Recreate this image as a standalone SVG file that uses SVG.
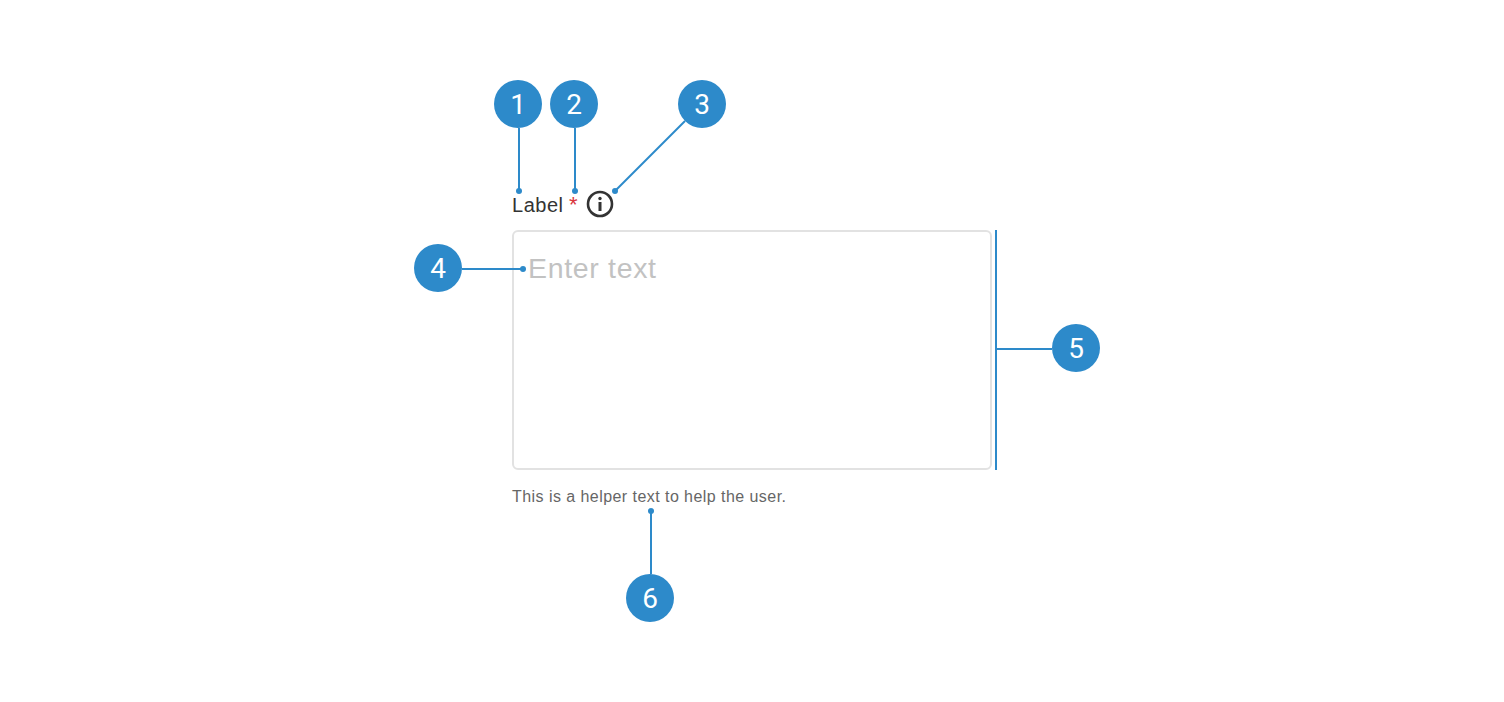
<svg xmlns="http://www.w3.org/2000/svg" width="1504" height="702" viewBox="0 0 1504 702">
<style>
.badge{fill:#2d8aca}
.num{fill:#fff;font-family:Roboto,"Liberation Sans",sans-serif;font-size:28px;font-weight:400;text-anchor:middle}
.conn{stroke:#2d8aca;stroke-width:2;fill:none}
.dot{fill:#2d8aca}
.t{font-family:"Liberation Sans",Arial,sans-serif}
</style>
<rect width="1504" height="702" fill="#fff"/>
<g id="field-label">
<text class="t" x="512" y="212" font-size="20" fill="#333" textLength="51">Label</text>
<text class="t" x="569" y="212" font-size="22" fill="#d9363e">*</text>
</g>
<g id="info-icon">
<circle cx="600" cy="204" r="12" fill="none" stroke="#333" stroke-width="2.6"/>
<circle cx="600" cy="198.500" r="1.700" fill="#333"/>
<rect x="598.500" y="202" width="3" height="9" fill="#333"/>
</g>
<g id="input">
<rect x="513" y="231" width="478" height="238" rx="5" fill="#fff" stroke="#e2e2e2" stroke-width="2"/>
<text class="t" x="528" y="278" font-size="28.500" fill="#c2c2c2" textLength="128">Enter text</text>
</g>
<g id="helper">
<text class="t" x="512" y="502" font-size="16" fill="#666" textLength="274">This is a helper text to help the user.</text>
</g>
<g id="connectors">
<path class="conn" d="M519 128V191"/><circle class="dot" cx="519" cy="191" r="3"/>
<path class="conn" d="M575 128V191"/><circle class="dot" cx="575" cy="191" r="3"/>
<path class="conn" d="M685 121L615 191"/><circle class="dot" cx="615" cy="191" r="3"/>
<path class="conn" d="M462 269H523"/><circle class="dot" cx="523" cy="269" r="3"/>
<path class="conn" d="M996 230V470M996 349H1052"/>
<path class="conn" d="M651 574V511"/><circle class="dot" cx="651" cy="511" r="3"/>
</g>
<g id="n1"><circle class="badge" cx="518" cy="104" r="24"/><text class="num" x="518" y="114">1</text></g>
<g id="n2"><circle class="badge" cx="574" cy="104" r="24"/><text class="num" x="574" y="114">2</text></g>
<g id="n3"><circle class="badge" cx="702" cy="104" r="24"/><text class="num" x="702" y="114">3</text></g>
<g id="n4"><circle class="badge" cx="438" cy="268" r="24"/><text class="num" x="438" y="278">4</text></g>
<g id="n5"><circle class="badge" cx="1076" cy="348" r="24"/><text class="num" x="1076" y="358">5</text></g>
<g id="n6"><circle class="badge" cx="650" cy="598" r="24"/><text class="num" x="650" y="608">6</text></g>
</svg>
